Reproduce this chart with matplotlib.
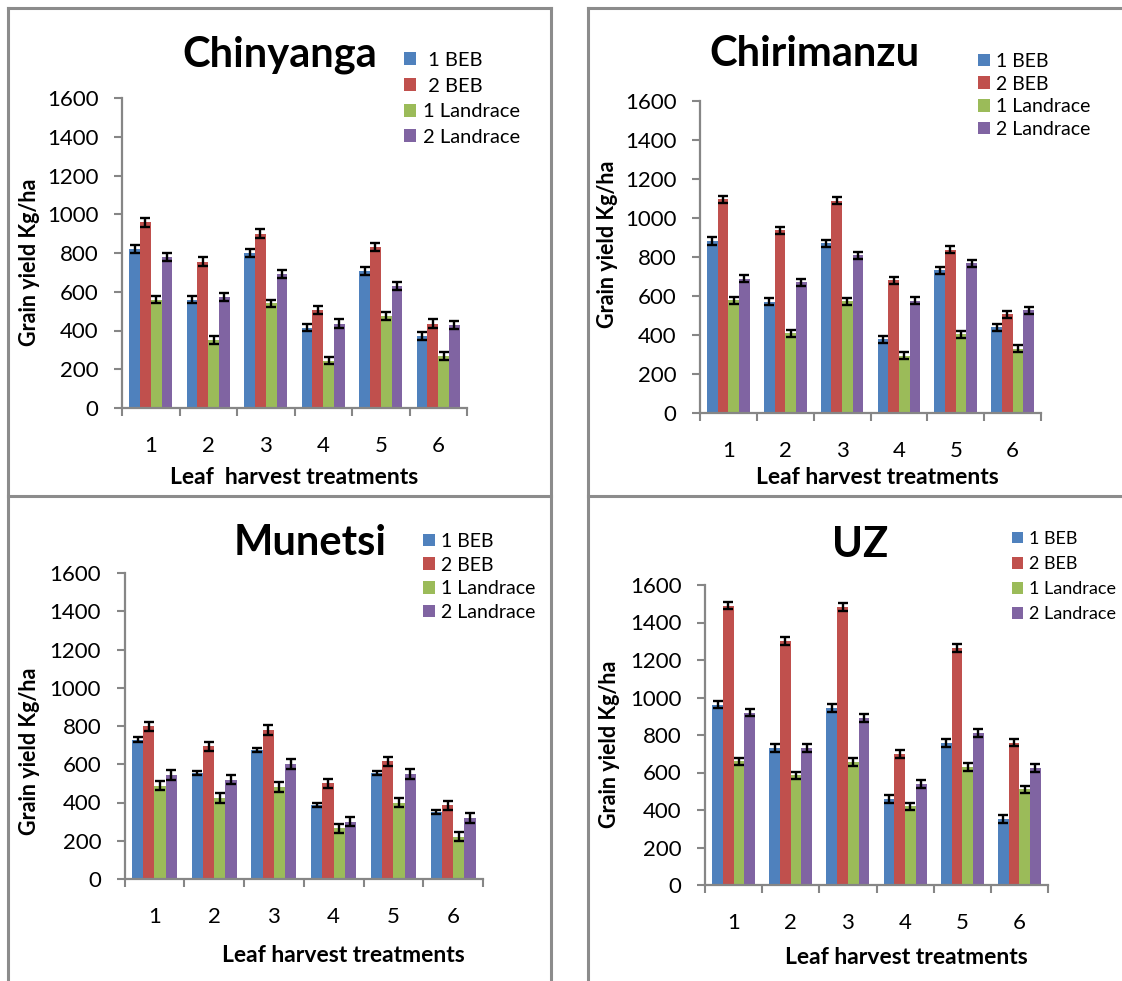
import matplotlib
matplotlib.use("Agg")
import matplotlib.pyplot as plt
from matplotlib.lines import Line2D
import numpy as np

plt.rcParams['font.family'] = ['Lato', 'DejaVu Sans']

# ---------------- data ----------------
treatments = ['1', '2', '3', '4', '5', '6']
series = ['1 BEB', '2 BEB', '1 Landrace', '2 Landrace']
series_chinyanga = [' 1 BEB', ' 2 BEB', '1 Landrace', '2 Landrace']
colors = ['#4F81BD', '#C0504D', '#9BBB59', '#8064A2']

chinyanga_beb1 = [820, 560, 800, 415, 708, 372]
chinyanga_beb2 = [958, 755, 900, 505, 832, 435]
chinyanga_land1 = [560, 350, 540, 245, 475, 268]
chinyanga_land2 = [780, 572, 692, 435, 630, 428]
chinyanga_err = [[20, 20, 20, 20, 20, 22],
                 [22, 22, 22, 22, 22, 22],
                 [20, 20, 20, 20, 20, 22],
                 [22, 22, 22, 22, 22, 22]]

chirimanzu_beb1 = [882, 570, 870, 378, 732, 440]
chirimanzu_beb2 = [1095, 938, 1088, 680, 838, 506]
chirimanzu_land1 = [578, 408, 572, 293, 405, 330]
chirimanzu_land2 = [688, 670, 808, 575, 768, 528]
chirimanzu_err = [[18, 18, 18, 18, 18, 18],
                  [18, 18, 18, 18, 18, 18],
                  [18, 18, 18, 18, 18, 18],
                  [18, 18, 18, 18, 18, 18]]

munetsi_beb1 = [728, 555, 675, 388, 555, 350]
munetsi_beb2 = [798, 693, 780, 500, 615, 385]
munetsi_land1 = [488, 423, 480, 265, 400, 222]
munetsi_land2 = [545, 520, 602, 300, 550, 318]
munetsi_err = [[12, 12, 12, 12, 12, 12],
               [25, 25, 25, 25, 25, 25],
               [25, 25, 25, 25, 25, 25],
               [25, 25, 25, 25, 25, 25]]

uz_beb1 = [962, 730, 945, 460, 758, 352]
uz_beb2 = [1490, 1302, 1482, 700, 1265, 760]
uz_land1 = [660, 585, 655, 420, 630, 510]
uz_land2 = [920, 730, 892, 540, 812, 625]
uz_err = [[20, 20, 20, 20, 20, 20],
          [20, 20, 20, 20, 20, 20],
          [20, 20, 20, 20, 20, 20],
          [20, 20, 20, 20, 20, 20]]

W, H = 1122, 981
fig = plt.figure(figsize=(W / 100, H / 100), dpi=100)
fig.patch.set_facecolor('white')


def fx(px):
    return px / W


def fy(py):
    return 1 - py / H


GRAY = '#868686'

# panel frame lines (pixel coords)
frame_lines = [
    ((8, 8), (8, 981)), ((551, 551), (8, 981)), ((588, 588), (8, 981)),
    ((8, 551), (8, 8)), ((588, 1122), (8, 8)),
    ((8, 551), (496, 496)), ((588, 1122), (496, 496)),
]
for xs, ys in frame_lines:
    fig.add_artist(Line2D([fx(xs[0]), fx(xs[1])], [fy(ys[0]), fy(ys[1])],
                          color='#8C8C8C', lw=2.2, transform=fig.transFigure))

panels = [
    dict(title='Chinyanga', data=[chinyanga_beb1, chinyanga_beb2, chinyanga_land1, chinyanga_land2],
         err=chinyanga_err, labels=series_chinyanga,
         ax=(122, 98, 467, 408), title_xy=(280, 55), ylab_xy=(30, 262),
         xlab='Leaf  harvest treatments', xlab_xy=(294, 478),
         leg_xy=(404, 52), leg_ls=0.43, leg_fs=14.5),
    dict(title='Chirimanzu', data=[chirimanzu_beb1, chirimanzu_beb2, chirimanzu_land1, chirimanzu_land2],
         err=chirimanzu_err, labels=series,
         ax=(700, 101, 1041, 413), title_xy=(814, 54), ylab_xy=(608, 244),
         xlab='Leaf harvest treatments', xlab_xy=(877, 478),
         leg_xy=(978, 53), leg_ls=0.29, leg_fs=14),
    dict(title='Munetsi', data=[munetsi_beb1, munetsi_beb2, munetsi_land1, munetsi_land2],
         err=munetsi_err, labels=series,
         ax=(124.5, 573, 483, 879), title_xy=(310, 543), ylab_xy=(30, 751),
         xlab='Leaf harvest treatments', xlab_xy=(343, 955),
         leg_xy=(423, 533), leg_ls=0.34, leg_fs=14),
    dict(title='UZ', data=[uz_beb1, uz_beb2, uz_land1, uz_land2],
         err=uz_err, labels=series,
         ax=(705, 585, 1048, 885), title_xy=(860, 545), ylab_xy=(610, 744),
         xlab='Leaf harvest treatments', xlab_xy=(906, 957),
         leg_xy=(1012, 531), leg_ls=0.5, leg_fs=13),
]

x = np.arange(len(treatments))
bw = 0.1875

for p in panels:
    l, t, r, b = p['ax']
    ax = fig.add_axes([fx(l), fy(b), fx(r - l), (b - t) / H])
    for i, (vals, col, lab) in enumerate(zip(p['data'], colors, p['labels'])):
        ax.bar(x + (i - 1.5) * bw, vals, width=bw, color=col, label=lab,
               yerr=p['err'][i], error_kw=dict(ecolor='black', elinewidth=1.7,
                                               capsize=3.6, capthick=1.7))
    ax.set_xlim(-0.5, 5.5)
    ax.set_ylim(0, 1600)
    ax.set_yticks(np.arange(0, 1601, 200))
    ax.set_xticks(np.arange(-0.5, 6, 1))
    ax.set_xticklabels([])
    ax.set_xticks(x, minor=True)
    ax.set_xticklabels(treatments, minor=True, fontsize=16)
    ax.tick_params(axis='x', which='major', length=5.5, width=1.5, color=GRAY, direction='out')
    ax.tick_params(axis='x', which='minor', length=0, pad=20)
    ax.tick_params(axis='y', length=5.8, width=1.5, color=GRAY, direction='out',
                   labelsize=16, pad=11)
    for s in ['top', 'right']:
        ax.spines[s].set_visible(False)
    for s in ['left', 'bottom']:
        ax.spines[s].set_color(GRAY)
        ax.spines[s].set_linewidth(1.6)
    ax.set_facecolor('none')

    fig.text(fx(p['title_xy'][0]), fy(p['title_xy'][1]), p['title'], fontsize=30,
             fontweight='bold', ha='center', va='center')
    fig.text(fx(p['ylab_xy'][0]), fy(p['ylab_xy'][1]), 'Grain yield Kg/ha', fontsize=15.5,
             fontweight='bold', rotation=90, ha='center', va='center')
    fig.text(fx(p['xlab_xy'][0]), fy(p['xlab_xy'][1]), p['xlab'], fontsize=16.5,
             fontweight='bold', ha='center', va='center')
    ax.legend(loc='upper left', bbox_to_anchor=(fx(p['leg_xy'][0]), fy(p['leg_xy'][1])),
              bbox_transform=fig.transFigure, frameon=False, fontsize=p['leg_fs'],
              handlelength=0.62, handleheight=0.62, handletextpad=0.3,
              labelspacing=p['leg_ls'], borderpad=0, borderaxespad=0)

fig.savefig('out.png', dpi=100, facecolor='white')
